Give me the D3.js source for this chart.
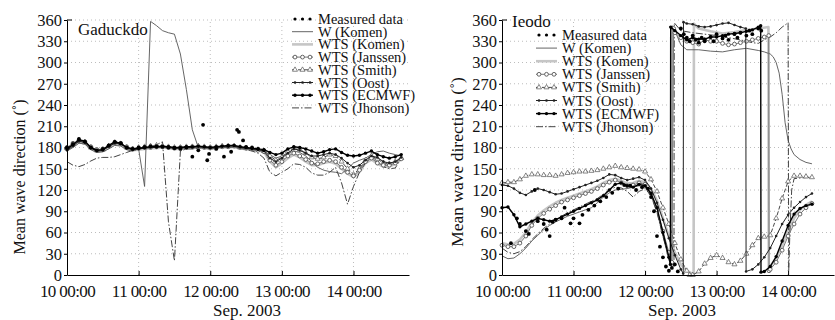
<!DOCTYPE html>
<html>
<head>
<meta charset="utf-8">
<script src="https://cdn.jsdelivr.net/npm/d3@7"></script>
<style>
  body { margin: 0; background: #fff; }
  text { font-family: "Liberation Serif", "Times New Roman", serif; }
</style>
</head>
<body>
<script>
const width = 835;
const height = 320;

// legend / series names
const seriesNames = ["Measured data", "W (Komen)", "WTS (Komen)", "WTS (Janssen)", "WTS (Smith)", "WTS (Oost)", "WTS (ECMWF)", "WTS (Jhonson)"];
const xTickHours = [0, 24, 48, 72, 96];
const xTickLabels = ["10 00:00", "11 00:00", "12 00:00", "13 00:00", "14 00:00"];
const yTicks = [0, 30, 60, 90, 120, 150, 180, 210, 240, 270, 300, 330, 360];

// ---- Gaduckdo (hours since 10 Sep 00:00, 2-hour steps) ----
const hoursL = [0,2,4,6,8,10,12,14,16,18,20,22,24,26,28,30,32,34,36,38,40,42,44,46,48,50,52,54,56,58,60,62,64,66,68,70,72,74,76,78,80,82,84,86,88,90,92,94,96,98,100,102,104,106,108,110,112];
const wKomenL = [175,180,186,185,177,173,174,178,183,182,177,175,178,125,358,352,345,342,340,312,262,205,180,181,180,180,181,181,180,179,178,177,176,175,170,165,168,172,175,173,168,160,152,148,146,145,143,150,158,162,165,170,174,175,172,170,168];
const wtsKomenL = [177,182,188,186,178,174,175,180,185,184,178,176,177,178,179,179,180,179,178,178,179,179,180,179,178,179,180,180,181,179,178,177,176,174,160,152,158,165,170,166,160,155,155,158,160,157,150,143,138,146,158,163,157,153,153,157,163];
const janssenL = [180,186,190,188,181,177,178,182,187,186,181,178,179,180,180,181,181,180,179,180,180,181,181,180,180,180,181,181,182,180,179,178,176,174,162,155,160,168,172,168,163,158,157,160,162,160,152,145,140,148,160,165,158,155,155,158,164];
const smithL = [179,185,190,187,180,176,177,182,187,185,180,178,180,181,182,183,182,181,180,180,181,181,182,181,180,181,182,182,182,180,179,178,177,175,168,162,166,174,179,177,172,166,164,166,170,168,160,150,142,150,162,168,164,158,157,160,165];
const oostL = [176,182,189,187,179,175,176,181,186,185,179,177,178,179,180,180,181,180,179,179,180,180,181,180,179,180,181,182,182,180,179,178,177,175,165,160,165,172,178,176,172,168,168,170,172,170,165,158,152,155,162,168,166,160,158,160,166];
const ecmwfL = [178,184,191,189,180,176,177,183,188,186,180,178,179,180,181,181,182,181,180,180,181,181,182,181,180,181,182,183,183,181,180,179,178,177,173,170,172,178,181,180,178,175,172,174,177,178,173,169,168,169,172,175,170,167,165,167,170];
const jhonsonL = [160,155,153,156,161,165,166,166,167,170,173,176,178,179,181,184,188,75,20,175,178,178,179,180,179,179,180,180,181,179,177,175,172,165,145,140,145,150,157,156,152,144,141,141,145,152,130,100,125,145,158,166,162,153,150,151,165];
const measuredL = [[0,180],[2,185],[4,192],[6,188],[8,180],[10,176],[12,178],[14,183],[16,188],[18,186],[20,180],[22,178],[24,180],[26,181],[28,182],[30,182],[32,181],[34,180],[36,179],[38,178],[40,180],[42,167],[44,176],[45.6,212],[47,162],[47.6,171],[50,178],[52.6,167],[54,182],[55,174],[57,205],[57.6,202],[59,190],[60,181],[62,180],[64,178],[66,176]];

// ---- Ieodo ([hour, direction]) ----
const measuredR = [[3,45],[5,80],[6,72],[8,62],[9,58],[11,120],[12,76],[14,72],[15,64],[16,55],[17,75],[18,78],[20,80],[21,95],[23,73],[24,80],[26,73],[27,85],[29,92],[31,98],[33,104],[35,110],[37,116],[39,122],[41,127],[43,126],[45,120],[47,124],[49,122],[50,110],[51,90],[52,55],[53,40],[54,25],[55,12],[56,6],[57,10],[58,15],[59,5],[60,348],[61,340],[62,335],[63,330],[64,338],[65,332],[66,328],[67,335],[68,330],[70,336],[71,330],[72,340],[74,334],[75,338],[76,332],[78,340],[79,335],[80,342],[82,338],[83,345],[84,340],[86,348],[87,345]];
const wKomenR = [[0,27],[2,23],[4,24],[6,30],[8,38],[10,48],[12,56],[14,64],[16,70],[18,75],[20,79],[22,83],[24,86],[26,89],[28,92],[30,95],[32,102],[34,110],[36,116],[38,120],[40,121],[42,122],[44,124],[46,126],[48,124],[50,112],[52,90],[54,55],[56,22],[57,10],[57.1,352],[58,345],[60,325],[62,318],[66,318],[70,316],[74,315],[78,318],[82,320],[86,317],[88,315],[90,312],[91,308],[92,300],[93,285],[94,255],[95,215],[96,190],[97,178],[98,170],[100,163],[102,159],[104,157]];
const wtsKomenR = [[0,45],[2,43],[4,44],[6,50],[8,60],[10,74],[12,84],[14,91],[16,97],[18,102],[20,106],[22,109],[24,112],[26,115],[28,118],[30,121],[32,125],[34,130],[36,134],[38,136],[40,133],[42,129],[44,130],[46,133],[48,131],[50,122],[52,105],[54,80],[56,55],[58,32],[60,15],[62,6],[64.3,1],[64.4,355],[66,348],[70,344],[74,341],[78,343],[82,346],[86,348],[89.4,350],[89.5,10],[90,12],[92,24],[94,42],[96,62],[98,80],[100,92],[102,99],[104,104]];
const janssenR = [[0,42],[2,40],[4,40],[6,45],[8,55],[10,70],[12,80],[14,87],[16,93],[18,98],[20,103],[22,106],[24,109],[26,112],[28,115],[30,118],[32,122],[34,127],[36,131],[38,134],[40,130],[42,126],[44,127],[46,130],[48,128],[50,115],[52,92],[54,62],[56,32],[57,18],[57.6,348],[58,342],[60,335],[62,330],[64,328],[66,326],[68,332],[70,330],[72,330],[74,327],[76,325],[78,326],[80,328],[82,330],[84,332],[86,334],[88,336],[89.5,338],[89.6,6],[90,8],[92,18],[94,35],[96,55],[98,72],[100,86],[102,95],[104,101]];
const smithR = [[0,130],[2,131],[4,131],[6,135],[8,140],[10,142],[12,142],[14,141],[16,141],[18,140],[20,142],[22,144],[24,145],[26,146],[28,146],[30,147],[32,148],[34,150],[36,152],[38,154],[40,152],[42,151],[44,150],[46,149],[48,146],[50,135],[52,118],[54,95],[56,72],[58,45],[60,22],[62,6],[63,0],[64,0],[66,5],[68,16],[70,24],[72,28],[74,24],[76,18],[78,15],[80,20],[82,30],[84,42],[86,52],[88,54],[90,56],[92,80],[94,108],[96,132],[98,140],[100,140],[102,139],[104,138]];
const oostR = [[0,127],[2,126],[4,122],[6,116],[8,113],[10,118],[12,122],[14,120],[16,117],[18,114],[20,115],[22,118],[24,121],[26,124],[28,127],[30,130],[32,133],[34,137],[36,142],[38,141],[40,137],[42,134],[44,136],[46,138],[48,134],[50,122],[52,102],[54,78],[56,52],[58,28],[60,8],[60.8,2],[60.9,357],[62,355],[64,354],[66,351],[68,350],[70,351],[72,353],[74,355],[76,356],[78,353],[80,350],[81.8,348],[81.9,5],[84,8],[86,15],[88,25],[90,38],[92,55],[94,72],[96,85],[98,95],[100,103],[102,110],[104,115]];
const ecmwfR = [[0,95],[2,96],[4,85],[6,68],[8,72],[10,76],[12,80],[14,78],[16,76],[18,78],[20,82],[22,86],[24,90],[26,94],[28,98],[30,102],[32,106],[34,112],[36,120],[38,128],[40,130],[42,126],[44,124],[46,128],[48,126],[50,115],[52,95],[54,60],[56,25],[56.5,15],[56.6,350],[58,345],[60,338],[62,332],[64,335],[66,333],[68,333],[70,336],[72,336],[74,338],[76,340],[78,341],[80,342],[82,344],[84,346],[86,350],[86.8,352],[86.9,4],[88,5],[90,12],[92,26],[94,48],[96,70],[98,86],[100,94],[102,98],[104,100]];
const jhonsonR = [[0,38],[2,32],[4,30],[6,33],[8,40],[10,50],[12,58],[14,66],[16,72],[18,78],[20,83],[22,88],[24,92],[26,96],[28,100],[30,104],[32,108],[34,114],[36,120],[38,124],[40,123],[42,118],[44,110],[46,118],[48,122],[50,112],[52,88],[54,55],[56,25],[57.7,12],[57.8,356],[60,345],[64,342],[68,340],[72,338],[76,335],[80,332],[84,328],[86,327],[88,332],[90,336],[92,342],[94,350],[96,356],[96.2,5],[96.6,60],[97.2,120],[98,136],[100,137],[104,138]];

// line styles (grayscale like the print)
const styles = {
  "W (Komen)":     { stroke: "#555", width: 0.9 },
  "WTS (Komen)":   { stroke: "#c6c6c6", width: 2.6 },
  "WTS (Janssen)": { stroke: "#777", width: 1, marker: "circle", r: 1.9 },
  "WTS (Smith)":   { stroke: "#333", width: 0.9, dash: "4,2", marker: "triangle" },
  "WTS (Oost)":    { stroke: "#222", width: 1, marker: "dot", r: 1.3 },
  "WTS (ECMWF)":   { stroke: "#000", width: 1.4, marker: "dot", r: 1.7 },
  "WTS (Jhonson)": { stroke: "#444", width: 1, dash: "7,2,1.5,2" }
};
const drawOrder = ["WTS (Komen)", "W (Komen)", "WTS (Jhonson)", "WTS (Smith)", "WTS (Janssen)", "WTS (Oost)", "WTS (ECMWF)"];

const svg = d3.select("body").append("svg").attr("width", width).attr("height", height).style("background", "#ffffff");

const drawMarkers = (g, pts, st) => {
  if (st.marker === "circle") {
    g.selectAll(null).data(pts).join("circle").attr("cx", d => d[0]).attr("cy", d => d[1])
      .attr("r", st.r).attr("fill", "#fff").attr("stroke", "#555").attr("stroke-width", 0.9);
  } else if (st.marker === "dot") {
    g.selectAll(null).data(pts).join("circle").attr("cx", d => d[0]).attr("cy", d => d[1])
      .attr("r", st.r).attr("fill", st.stroke);
  } else if (st.marker === "triangle") {
    const tri = d3.symbol().type(d3.symbolTriangle).size(11);
    g.selectAll(null).data(pts).join("path").attr("d", tri)
      .attr("transform", d => "translate(" + d[0] + "," + d[1] + ")")
      .attr("fill", "#fff").attr("stroke", "#555").attr("stroke-width", 0.7);
  }
};

const drawPanel = (cfg) => {
  const x = d3.scaleLinear().domain([0, cfg.hMax]).range([cfg.x0, cfg.x1]);
  const y = d3.scaleLinear().domain([0, 360]).range([275, 20]);
  const g = svg.append("g");

  // dotted grid
  g.append("g").selectAll("line").data(yTicks.slice(1)).join("line")
    .attr("x1", cfg.x0).attr("x2", cfg.x1).attr("y1", d => y(d)).attr("y2", d => y(d))
    .attr("stroke", "#bdbdbd").attr("stroke-dasharray", "1,3");
  g.append("g").selectAll("line").data(xTickHours.slice(1)).join("line")
    .attr("x1", d => x(d)).attr("x2", d => x(d)).attr("y1", y(0)).attr("y2", y(360))
    .attr("stroke", "#bdbdbd").attr("stroke-dasharray", "1,3");

  // legend
  const lg = g.append("g");
  seriesNames.forEach((name, i) => {
    const ly = cfg.legY + i * cfg.legStep;
    const row = lg.append("g");
    if (name === "Measured data") {
      row.selectAll("circle").data([0, 1, 2]).join("circle")
        .attr("cx", k => cfg.legX + 3 + k * 7.5).attr("cy", ly - 5).attr("r", 1.6).attr("fill", "#000");
    } else {
      const st = styles[name];
      row.append("line").attr("x1", cfg.legX).attr("x2", cfg.legX + 21).attr("y1", ly - 5).attr("y2", ly - 5)
        .attr("stroke", st.stroke).attr("stroke-width", st.width).attr("stroke-dasharray", st.dash || null);
      if (st.marker) drawMarkers(row, [[cfg.legX + 3, ly - 5], [cfg.legX + 10.5, ly - 5], [cfg.legX + 18, ly - 5]], st);
    }
    row.append("text").attr("x", cfg.legX + 26).attr("y", ly).attr("font-size", 14.5).attr("fill", "#111").text(name);
  });

  // model series
  const line = d3.line().x(d => x(d[0])).y(d => y(d[1]));
  drawOrder.forEach(name => {
    const st = styles[name];
    const data = cfg.series[name];
    g.append("path").datum(data).attr("d", line).attr("fill", "none")
      .attr("stroke", st.stroke).attr("stroke-width", st.width)
      .attr("stroke-dasharray", st.dash || null).attr("stroke-linejoin", "round");
    if (st.marker) drawMarkers(g.append("g"), data.map(d => [x(d[0]), y(d[1])]), st);
  });

  // measured data
  g.append("g").selectAll("circle").data(cfg.measured).join("circle")
    .attr("cx", d => x(d[0])).attr("cy", d => y(d[1])).attr("r", 1.9).attr("fill", "#000");

  // axes
  const yAxis = d3.axisLeft(y).tickValues(yTicks).tickSize(3).tickSizeOuter(0).tickPadding(2);
  const ya = g.append("g").attr("transform", "translate(" + cfg.x0 + ",0)").call(yAxis)
    .attr("font-family", "Liberation Serif, serif").attr("font-size", 16.5);
  ya.selectAll("text").attr("fill", "#111");
  g.append("line").attr("x1", cfg.x0).attr("x2", cfg.x0 + 5).attr("y1", y(360)).attr("y2", y(360)).attr("stroke", "#000");

  const xAxis = d3.axisBottom(x).tickValues(xTickHours).tickFormat((d, i) => xTickLabels[i])
    .tickSize(-4).tickSizeOuter(0).tickPadding(10);
  const xa = g.append("g").attr("transform", "translate(0,275)").call(xAxis)
    .attr("font-family", "Liberation Serif, serif").attr("font-size", 17);
  xa.selectAll("text").attr("fill", "#111").attr("letter-spacing", "-0.6px");

  // labels
  g.append("text").attr("x", cfg.nameX).attr("y", cfg.nameY).attr("font-size", 17).attr("fill", "#111").text(cfg.name);
  g.append("text").attr("transform", "translate(" + cfg.titleX + "," + cfg.titleY + ") rotate(-90)")
    .attr("text-anchor", "middle").attr("font-size", cfg.titleSize).attr("fill", "#111").text("Mean wave direction (˚)");
  g.append("text").attr("x", cfg.monthX).attr("y", 316).attr("text-anchor", "middle")
    .attr("font-size", 17).attr("fill", "#111").text("Sep. 2003");
};

const toPairs = (vals) => hoursL.map((h, i) => [h, vals[i]]);

drawPanel({
  name: "Gaduckdo", nameX: 78, nameY: 35,
  x0: 67, x1: 409, hMax: 114.6,
  legX: 292, legY: 24, legStep: 12.7,
  titleX: 25, titleY: 177, titleSize: 16, monthX: 247,
  measured: measuredL,
  series: {
    "W (Komen)": toPairs(wKomenL), "WTS (Komen)": toPairs(wtsKomenL), "WTS (Janssen)": toPairs(janssenL),
    "WTS (Smith)": toPairs(smithL), "WTS (Oost)": toPairs(oostL), "WTS (ECMWF)": toPairs(ecmwfL),
    "WTS (Jhonson)": toPairs(jhonsonL)
  }
});

drawPanel({
  name: "Ieodo", nameX: 512, nameY: 27,
  x0: 502, x1: 834, hMax: 111.4,
  legX: 536, legY: 40, legStep: 13.1,
  titleX: 463, titleY: 162, titleSize: 17.5, monthX: 682,
  measured: measuredR,
  series: {
    "W (Komen)": wKomenR, "WTS (Komen)": wtsKomenR, "WTS (Janssen)": janssenR,
    "WTS (Smith)": smithR, "WTS (Oost)": oostR, "WTS (ECMWF)": ecmwfR, "WTS (Jhonson)": jhonsonR
  }
});
</script>
</body>
</html>
